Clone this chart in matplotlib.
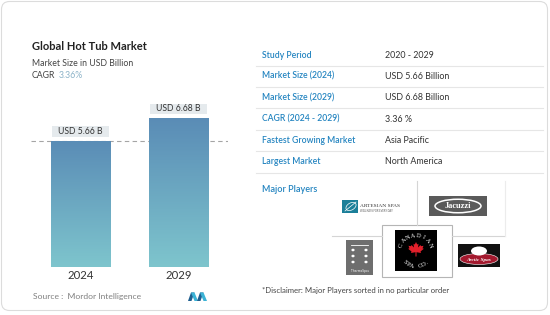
import numpy as np
import matplotlib
matplotlib.use('Agg')
import matplotlib.pyplot as plt
from matplotlib.patches import FancyBboxPatch, Rectangle, Polygon, Ellipse
from matplotlib.colors import LinearSegmentedColormap

# ---------------- data ----------------
years = ['2024', '2029']
values = [5.66, 6.68]
value_labels = ['USD 5.66 B', 'USD 6.68 B']
title = 'Global Hot Tub Market'
subtitle = 'Market Size in USD Billion'
cagr_label = 'CAGR'
cagr_value = '3.36%'
source = 'Source :  Mordor Intelligence'
table_labels = ['Study Period', 'Market Size (2024)', 'Market Size (2029)',
                'CAGR (2024 - 2029)', 'Fastest Growing Market', 'Largest Market']
table_values = ['2020 - 2029', 'USD 5.66 Billion', 'USD 6.68 Billion',
                '3.36 %', 'Asia Pacific', 'North America']
players_title = 'Major Players'
disclaimer = '*Disclaimer: Major Players sorted in no particular order'

plt.rcParams['font.family'] = ['Lato', 'DejaVu Sans']

fig = plt.figure(figsize=(5.5, 3.15), dpi=100)
fig.patch.set_facecolor('white')

# overlay in pixel coordinates
ov = fig.add_axes([0, 0, 1, 1])
ov.set_xlim(0, 550)
ov.set_ylim(315, 0)
ov.axis('off')

ov.add_patch(FancyBboxPatch((1.5, 1.5), 546, 309,
                            boxstyle='round,pad=0,rounding_size=8',
                            fc='white', ec='#dcdcdc', lw=0.8))

# titles
ov.text(32, 47, title, fontsize=8.0, fontweight='bold', color='#222222', va='center')
ov.text(32, 63, subtitle, fontsize=6.3, color='#444444', va='center')
ov.text(32, 76, cagr_label, fontsize=6.3, color='#444444', va='center')
ov.text(58.5, 76, cagr_value, fontsize=6.3, color='#8cb3c8', va='center')

# ---------------- bar chart ----------------
ax = fig.add_axes([31 / 550, 48 / 315, 197 / 550, 167 / 315])
ax.patch.set_alpha(0)
x = np.arange(len(years))
bw = 0.6
bars = ax.bar(x, values, width=bw, color='none', zorder=2)
cmap = LinearSegmentedColormap.from_list('g', ['#7ec5cd', '#5a8cb6'])
grad = np.linspace(1, 0, 256).reshape(-1, 1)
for xi, v, b in zip(x, values, bars):
    im = ax.imshow(grad, extent=[xi - bw / 2, xi + bw / 2, 0, v], aspect='auto',
                   cmap=cmap, vmin=0, vmax=1, zorder=2)
    im.set_clip_path(b)
ax.set_xlim(-0.5, 1.5)
ax.set_ylim(0, 7.5)
ppu = 167 / 7.5
ax.axhline(values[0], color='#a5a5a5', lw=0.8, ls=(0, (4, 3)), zorder=1)
for xi, v, lab in zip(x, values, value_labels):
    ax.add_patch(Rectangle((xi - 0.29, v + 4 / ppu), 0.58, 10.5 / ppu,
                           fc='#e5eaed', ec='none', zorder=3))
    ax.text(xi, v + 9.3 / ppu, lab, ha='center', va='center', fontsize=6.2,
            color='#333333', zorder=4)
ax.set_xticks(x, years)
ax.set_yticks([])
ax.tick_params(length=0, pad=2.5, labelsize=8.2, colors='#333333')
for s in ax.spines.values():
    s.set_visible(False)

ov.text(33, 297, source, fontsize=6.1, color='#808080', va='center')
# mordor logo
ov.add_patch(Polygon([(188, 301), (191, 292.5), (194.5, 292.5), (191.5, 301)], fc='#1f5f8f', ec='none'))
ov.add_patch(Polygon([(191, 292.5), (194.5, 292.5), (198, 301), (194.5, 301)], fc='#3bb3d6', ec='none'))
ov.add_patch(Polygon([(197, 301), (200, 292.5), (203.5, 292.5), (200.5, 301)], fc='#1f5f8f', ec='none'))
ov.add_patch(Polygon([(200, 292.5), (203.5, 292.5), (207, 301), (203.5, 301)], fc='#3bb3d6', ec='none'))

# ---------------- table ----------------
for i, (l, v) in enumerate(zip(table_labels, table_values)):
    y = 55 + i * 21.4
    ov.text(262, y, l, fontsize=6.2, color='#2384c0', va='center', fontweight='semibold')
    ov.text(385, y, v, fontsize=6.4, color='#333333', va='center')
    ov.plot([256, 543], [y + 10.6, y + 10.6], color='#e6e6e6', lw=0.8)

ov.text(262, 190, players_title, fontsize=6.5, color='#2384c0', va='center', fontweight='semibold')
ov.text(262, 291, disclaimer, fontsize=5.6, color='#444444', va='center')

# logo grid
gc = '#d5d5d5'
ov.plot([417, 417], [181, 225], color=gc, lw=0.8)
ov.plot([332, 382], [236, 236], color=gc, lw=0.8)
ov.plot([452, 505], [236, 236], color=gc, lw=0.8)
ov.plot([505, 505], [181, 236], color='#ececec', lw=0.8)
ov.add_patch(Rectangle((382, 225), 70, 52, fc='white', ec='#b5b5b5', lw=0.8))

# Artesian Spas
ov.add_patch(Rectangle((342, 200), 16, 13, fc='#1b7f99', ec='none'))
ov.add_patch(Ellipse((351, 206.5), 11, 7, angle=-30, fc='none', ec='white', lw=0.5))
ov.plot([345, 356], [211, 202], color='white', lw=0.5)
ov.text(360, 206, 'ARTESIAN SPAS', fontsize=3.9, color='#333333', va='center',
        family=['Liberation Serif', 'DejaVu Serif'])
ov.text(360, 211.5, 'WELLNESS FOR EVERY DAY', fontsize=1.8, color='#555555', va='center')

# Jacuzzi
ov.add_patch(Rectangle((429, 196), 58, 20, fc='#5a5a5a', ec='none'))
ov.add_patch(Ellipse((458, 206), 46, 13.5, fc='none', ec='white', lw=1.1))
ov.text(458, 206.5, 'Jacuzzi', fontsize=6, color='white', ha='center', va='center',
        fontweight='bold', family=['Liberation Serif', 'DejaVu Serif'])

# Canadian Spa Co.
ov.add_patch(Rectangle((395, 230), 42, 41, fc='black', ec='none'))
cx, cy, r = 416, 251, 15.5
for ch, th in zip('CANADIAN', np.linspace(158, 22, 8)):
    t = np.radians(th)
    ov.text(cx + r * np.cos(t), cy - r * np.sin(t), ch, fontsize=4.6, color='white',
            ha='center', va='center', rotation=th - 90,
            family=['Liberation Serif', 'DejaVu Serif'])
for ch, th in zip('SPA CO.', np.linspace(225, 315, 7)):
    t = np.radians(th)
    ov.text(cx + r * np.cos(t), cy - r * np.sin(t), ch, fontsize=4.6, color='white',
            ha='center', va='center', rotation=th + 90,
            family=['Liberation Serif', 'DejaVu Serif'])
leaf = [(0, 1.0), (0.12, 0.75), (0.25, 0.82), (0.2, 0.45), (0.45, 0.7), (0.5, 0.58),
        (0.75, 0.62), (0.65, 0.38), (0.78, 0.32), (0.45, 0.05), (0.5, -0.1), (0.05, -0.02),
        (0.05, -0.45), (-0.05, -0.45), (-0.05, -0.02), (-0.5, -0.1), (-0.45, 0.05),
        (-0.78, 0.32), (-0.65, 0.38), (-0.75, 0.62), (-0.5, 0.58), (-0.45, 0.7),
        (-0.2, 0.45), (-0.25, 0.82), (-0.12, 0.75)]
ov.add_patch(Polygon([(cx + 10 * a, cy + 1 - 10 * b) for a, b in leaf], fc='#e2202b', ec='none'))

# gray logo
ov.add_patch(Rectangle((346, 240), 27, 35, fc='#6e6e6e', ec='none'))
ov.plot([351, 368], [245, 245], color='white', lw=0.6)
for yy in (250, 256, 262):
    for xx in (353, 366):
        ov.add_patch(Ellipse((xx, yy), 3.2, 2.6, fc='white', ec='none'))
ov.text(359.5, 271, 'ThermoSpas', fontsize=2.3, color='white', ha='center', va='center')

# Arctic Spas
ov.add_patch(Rectangle((458, 244), 42, 23, fc='#111111', ec='none'))
ov.add_patch(Ellipse((479, 259), 38, 11, fc='#a3192e', ec='white', lw=0.4))
ov.add_patch(Ellipse((479, 251), 16, 9, fc='white', ec='none'))
ov.text(479, 259.5, 'Arctic Spas', fontsize=3.8, color='white', ha='center', va='center',
        style='italic', fontweight='bold', family=['Liberation Serif', 'DejaVu Serif'])

fig.savefig('out.png', dpi=100)
